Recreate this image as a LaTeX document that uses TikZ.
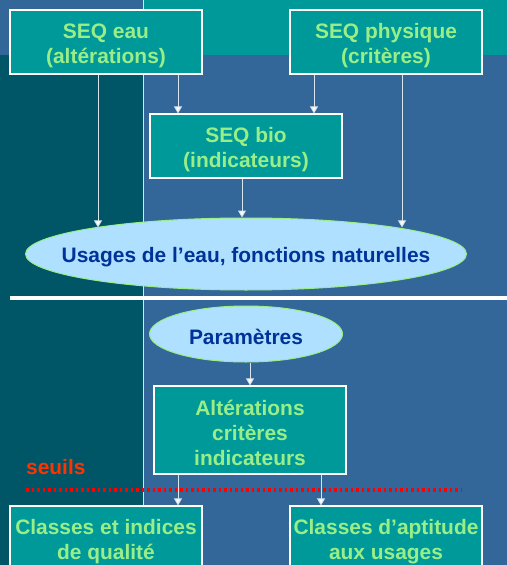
\documentclass[tikz,border=0pt]{standalone}
\usepackage{fontspec}
\setmainfont{Liberation Sans}
\usetikzlibrary{arrows.meta,shapes.geometric}
\definecolor{bgblue}{HTML}{336699}
\definecolor{bgteal}{HTML}{009999}
\definecolor{bgdark}{HTML}{005566}
\definecolor{txtgreen}{HTML}{99EE88}
\definecolor{ellfill}{HTML}{B0E0FF}
\definecolor{elltxt}{HTML}{003399}
\definecolor{seuilred}{HTML}{FF3300}
\definecolor{linegray}{HTML}{D8E4EC}
\newcommand\topstrut{\rule{0pt}{22bp}}
\begin{document}
\begin{tikzpicture}[x=1bp,y=-1bp,
  seqbox/.style={draw=white,line width=1.2bp,fill=bgteal,text=txtgreen,font=\fontsize{21}{25}\selectfont\bfseries,
    align=center,minimum width=192bp,minimum height=64bp,inner sep=0pt},
  usebox/.style={ellipse,draw=txtgreen,line width=1bp,fill=ellfill,text=elltxt,font=\fontsize{21}{25}\selectfont\bfseries,
    inner xsep=-40bp,inner ysep=0pt,execute at begin node=\topstrut},
  arr/.style={draw=linegray,line width=1bp,-{Triangle[width=8bp,length=7bp,fill=white]}}]
\useasboundingbox (0,0) rectangle (507,565);
\fill[bgblue] (0,0) rectangle (507,565);
\fill[bgteal] (143,0) rectangle (507,55);
\fill[bgdark] (0,55) rectangle (143,565);
\draw[linegray,line width=0.8bp] (143,0) -- (143,565);
\fill[white] (10,296) rectangle (507,300);

\node[seqbox] (eau) at (106,42) {\topstrut SEQ eau\\(altérations)};
\node[seqbox] (phys) at (386,42) {\topstrut SEQ physique\\(critères)};
\node[seqbox] (bio) at (246,146) {\topstrut SEQ bio\\(indicateurs)};
\node[usebox,minimum width=441bp,minimum height=72bp] (usages) at (246,254) {Usages de l’eau, fonctions naturelles};
\node[usebox,minimum width=193bp,minimum height=56bp] (param) at (246,334) {Paramètres};
\node[seqbox,minimum height=88bp] (alt) at (250,430) {\topstrut Altérations\\critères\\indicateurs};
\node[seqbox] (qual) at (106,538) {\topstrut Classes et indices\\de qualité};
\node[seqbox] (apt) at (386,538) {\topstrut Classes d’aptitude\\aux usages};
\node[text=seuilred,font=\fontsize{21}{25}\selectfont\bfseries,anchor=west,inner sep=0pt] (seuils) at (26,467) {seuils};
\draw[red,line width=3.3bp,dash pattern=on 2.8bp off 2.7bp] (26,490) -- (462,490);

\draw[arr] ([xshift=-8bp]eau.south) -- ([xshift=-8bp]eau.south |- usages.170);
\draw[arr] ([xshift=72bp]eau.south) -- ([xshift=72bp]eau.south |- bio.north);
\draw[arr] ([xshift=-72bp]phys.south) -- ([xshift=-72bp]phys.south |- bio.north);
\draw[arr] ([xshift=16bp]phys.south) -- ([xshift=16bp]phys.south |- usages.10);
\draw[arr] ([xshift=-4bp]bio.south) -- ([xshift=-4bp]bio.south |- usages.north);
\draw[arr] (alt.north |- param.south) -- (alt.north);
\draw[arr] ([xshift=-72bp]alt.south) -- ([xshift=-72bp]alt.south |- qual.north);
\draw[arr] ([xshift=71bp]alt.south) -- ([xshift=71bp]alt.south |- apt.north);
\end{tikzpicture}
\end{document}
